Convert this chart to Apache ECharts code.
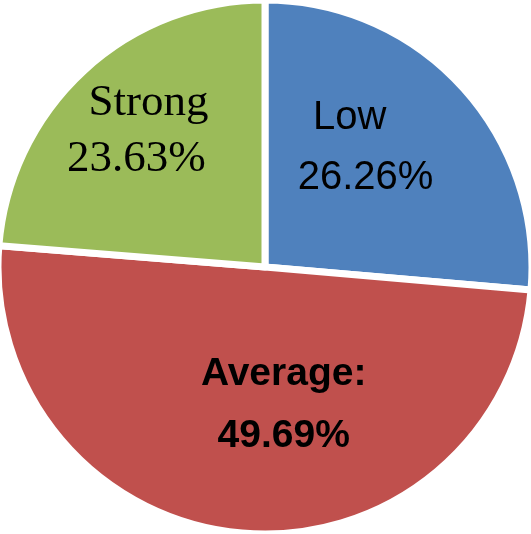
<!DOCTYPE html>
<html>
<head>
<meta charset="utf-8">
<script src="https://cdn.jsdelivr.net/npm/echarts@6/dist/echarts.min.js"></script>
<style>html,body{margin:0;padding:0;background:#fff;}#c{width:531px;height:534px;}</style>
</head>
<body>
<div id="c"></div>
<script>
const categories = ['Low', 'Average', 'Strong'];
const values = [26.26, 49.69, 23.63];
const labelTexts = ['26.26%', '49.69%', '23.63%'];
const colors = ['#4F81BD', '#C0504D', '#9BBB59'];
const labelOffsets = [[0, -27], [30, 2], [-36, -36]];

const chart = echarts.init(document.getElementById('c'));
const richStyles = {
  lowA: {fontFamily: 'Liberation Sans', fontSize: 40, lineHeight: 60, color: '#000', padding: [0, 32, 0, 0]},
  lowB: {fontFamily: 'Liberation Sans', fontSize: 40, lineHeight: 60, color: '#000'},
  avgA: {fontFamily: 'Liberation Sans', fontWeight: 'bold', fontSize: 39, lineHeight: 62, color: '#000'},
  avgB: {fontFamily: 'Liberation Sans', fontWeight: 'bold', fontSize: 39, lineHeight: 62, color: '#000'},
  strA: {fontFamily: 'Liberation Serif', fontSize: 45, lineHeight: 56, color: '#000', padding: [0, 0, 0, 24]},
  strB: {fontFamily: 'Liberation Serif', fontSize: 45, lineHeight: 56, color: '#000'}
};
const keys = ['low', 'avg', 'str'];
const seps = ['', ':', ''];
const data = categories.map((c, i) => ({
  name: c,
  value: values[i],
  itemStyle: {color: colors[i]},
  label: {
    formatter: '{' + keys[i] + 'A|' + c + seps[i] + '}\n{' + keys[i] + 'B|' + labelTexts[i] + '}'
  }
}));

chart.setOption({
  animation: false,
  series: [{
    type: 'pie',
    center: [265, 267],
    radius: [0, 267],
    startAngle: 90,
    clockwise: true,
    silent: true,
    itemStyle: {borderColor: '#fff', borderWidth: 7},
    label: {show: true, position: 'inside', rich: richStyles},
    labelLine: {show: false},
    labelLayout: function (p) {
      const o = labelOffsets[p.dataIndex];
      return {dx: o[0], dy: o[1]};
    },
    data: data
  }]
});
</script>
</body>
</html>
